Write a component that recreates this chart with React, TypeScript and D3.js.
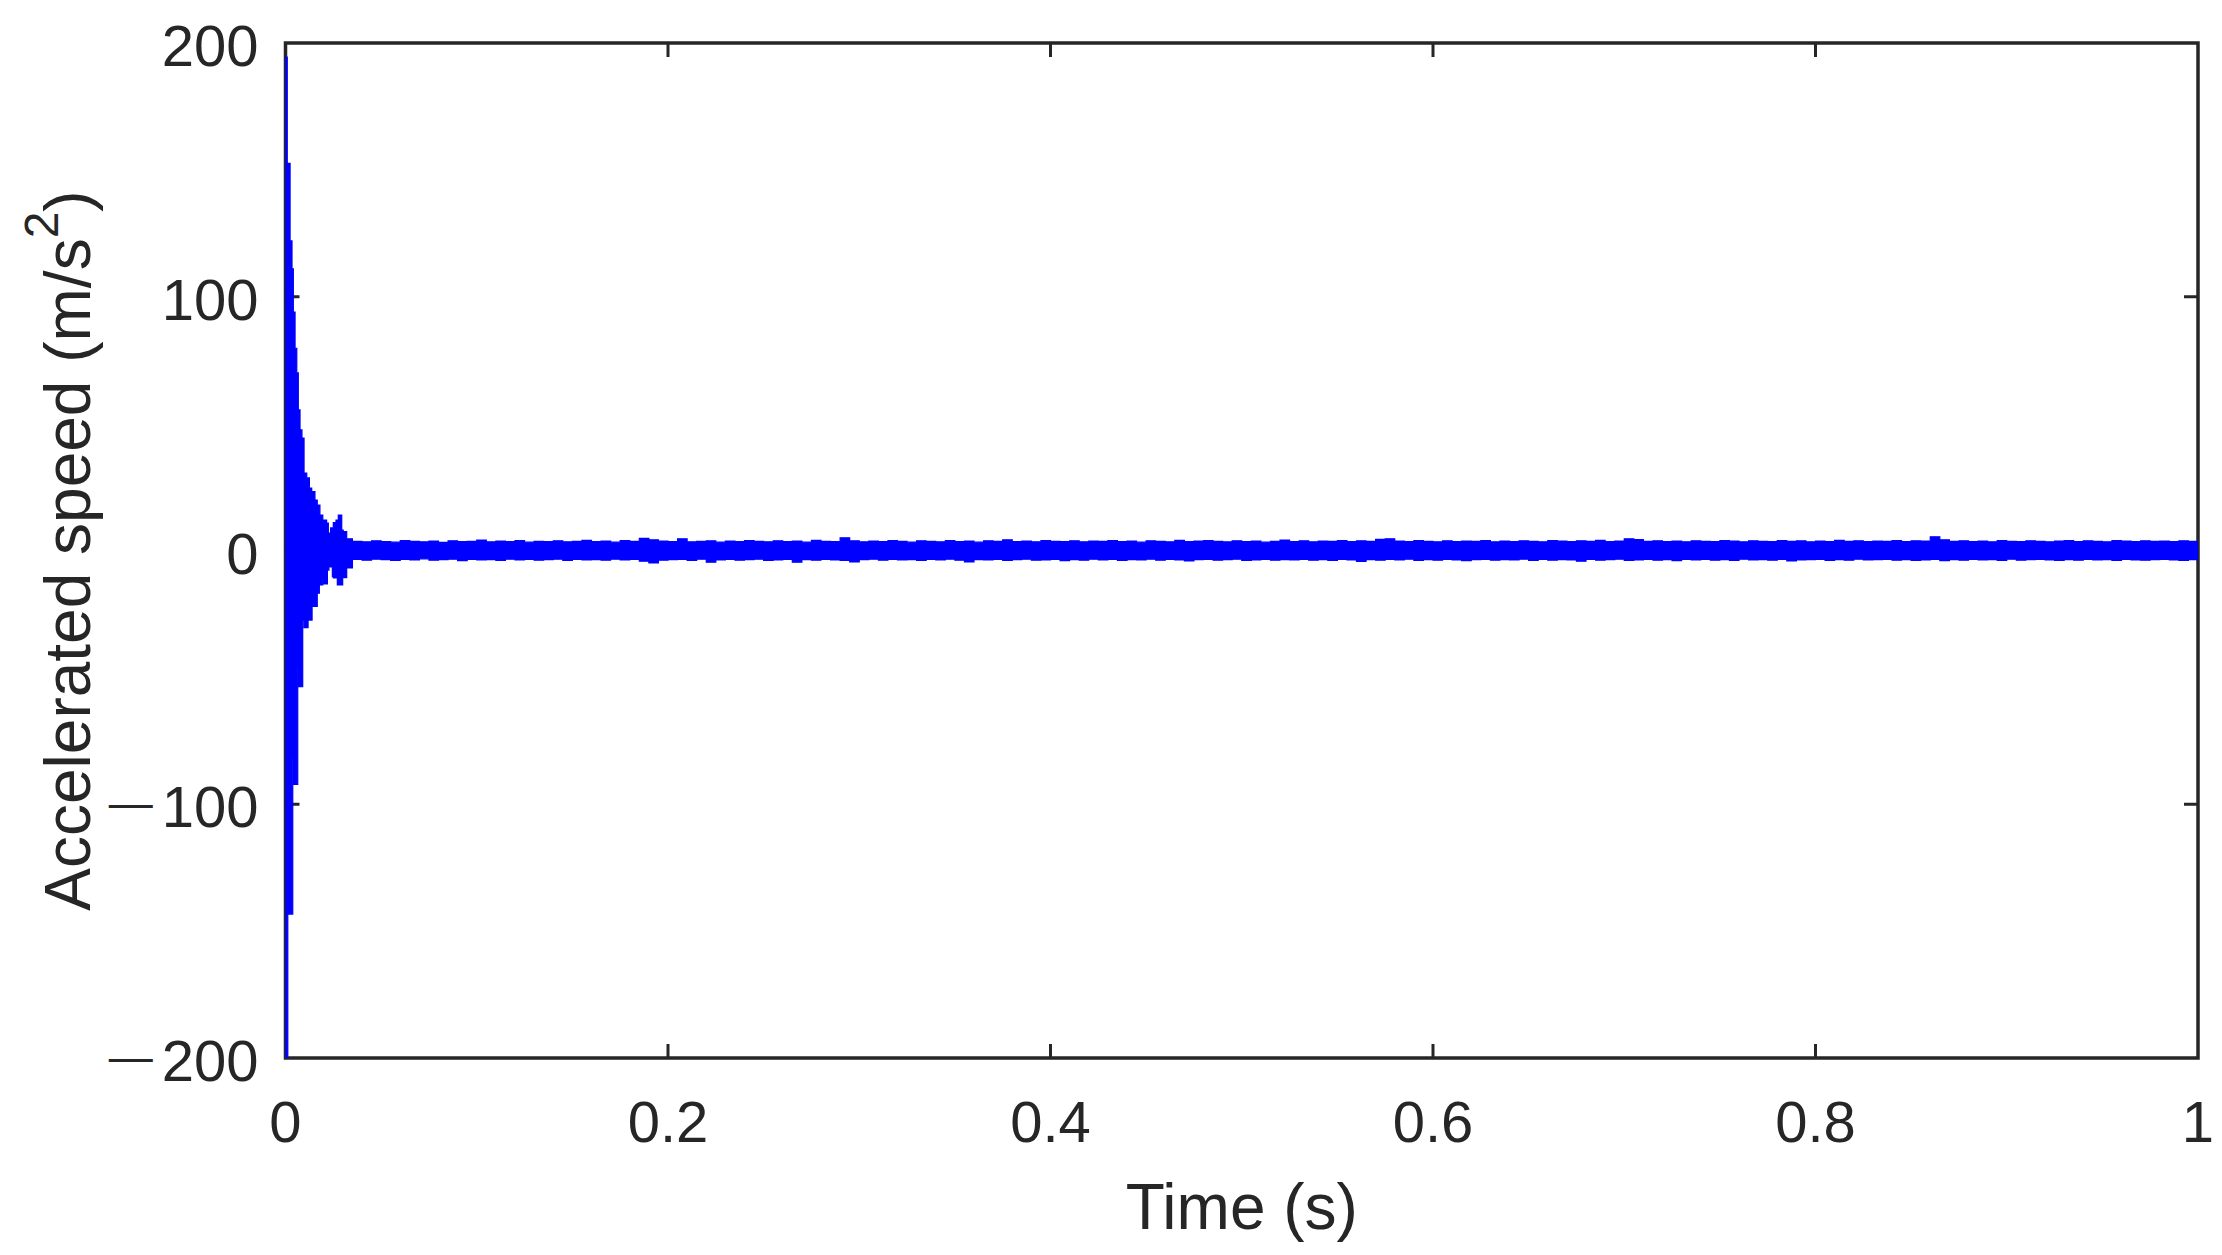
import * as d3 from 'd3';

// transient part, upper envelope (s, m/s^2)
const hiTimes = [0, 0.0009, 0.0024, 0.0034, 0.0041, 0.005, 0.0059, 0.0067, 0.0076, 0.0086, 0.0097, 0.0111, 0.0125, 0.0137, 0.0154, 0.0166, 0.018, 0.0195, 0.0215, 0.0224, 0.0236, 0.025, 0.0264, 0.0276, 0.0294, 0.0302, 0.032];
const hiValues = [194.4, 152.6, 122, 111, 94, 79.7, 70, 55.4, 47.5, 44.3, 30.5, 28.6, 24.6, 23.2, 19.9, 17.9, 14, 12, 10.8, 6.9, 8.9, 11, 12, 14, 8, 7.4, 4.6];

// transient part, lower envelope
const loTimes = [0, 0.0012, 0.0038, 0.0043, 0.0064, 0.0069, 0.009, 0.0097, 0.0118, 0.0139, 0.0145, 0.0166, 0.0177, 0.0195, 0.0201, 0.0219, 0.0227, 0.0245, 0.025, 0.0271, 0.0299, 0.032];
const loValues = [-215, -143.3, -81.9, -92.2, -45.5, -53.7, -27.4, -30.4, -27.4, -20.7, -22, -16.8, -13.6, -10.8, -13.2, -7.7, -6.5, -10.3, -10.8, -13.6, -10.7, -6.9];

// steady part, sampled every 5 ms from 0.035 s to 1 s
const steadyStart = 0.035;
const steadyStep = 0.005;
const steadyHi = [
  3.6, 3.4, 3.8, 3.5, 3.3, 3.9, 3.6, 3.4, 3.7, 3.2, 3.8, 3.5, 3.6, 4.1, 3.4, 3.7, 3.5, 3.9, 3.3, 3.6,
  3.5, 3.8, 3.4, 3.6, 4.0, 3.5, 3.7, 3.3, 3.9, 3.6, 4.8, 4.2, 3.7, 3.5, 4.6, 3.4, 3.6, 3.8, 3.3, 3.7,
  3.5, 3.9, 3.6, 3.4, 3.8, 3.5, 3.7, 3.3, 4.0, 3.6, 3.5, 5.0, 3.8, 3.4, 3.7, 3.5, 3.9, 3.6, 3.3, 3.8,
  3.6, 3.4, 3.9, 3.5, 3.7, 3.3, 3.8, 3.6, 4.2, 3.5, 3.7, 3.4, 3.9, 3.6, 3.5, 3.8, 3.4, 3.7, 3.6, 3.9,
  3.5, 3.7, 3.3, 3.8, 3.6, 3.4, 4.0, 3.5, 3.7, 3.9, 3.6, 3.4, 3.8, 3.5, 3.7, 3.3, 3.6, 4.1, 3.5, 3.8,
  3.4, 3.7, 3.6, 3.9, 3.5, 3.8, 3.6, 4.4, 4.6, 3.7, 3.5, 3.9, 3.6, 3.4, 3.8, 3.5, 3.7, 3.6, 3.9, 3.4,
  3.7, 3.5, 3.8, 3.6, 3.4, 3.9, 3.7, 3.5, 3.8, 3.6, 4.0, 3.5, 3.7, 4.6, 4.3, 3.6, 3.8, 3.5, 3.7, 3.4,
  3.8, 3.6, 3.5, 3.9, 3.7, 3.4, 3.8, 3.6, 3.5, 3.9, 3.6, 3.8, 3.4, 3.7, 3.5, 4.0, 3.6, 3.8, 3.5, 3.7,
  3.6, 3.9, 3.5, 3.8, 3.7, 5.4, 4.2, 3.6, 3.8, 3.5, 3.7, 3.4, 3.9, 3.6, 3.5, 3.8, 3.6, 3.4, 3.7, 3.9,
  3.5, 3.8, 3.6, 3.4, 3.9, 3.7, 3.5, 3.8, 3.6, 3.7, 3.5, 3.8, 3.6, 3.7,
];
const steadyLo = [
  -3.5, -3.8, -3.4, -3.6, -3.9, -3.5, -3.7, -3.3, -3.8, -3.6, -3.4, -4.0, -3.5, -3.7, -3.6, -3.9, -3.4, -3.7, -3.5, -3.8,
  -3.6, -3.4, -3.9, -3.5, -3.7, -3.6, -3.8, -3.4, -3.7, -3.5, -4.2, -4.9, -3.8, -3.6, -3.5, -3.9, -3.4, -4.6, -3.7, -3.5,
  -3.8, -3.6, -3.4, -3.9, -3.7, -3.5, -4.6, -3.6, -3.8, -3.5, -3.7, -3.9, -4.5, -3.6, -3.4, -3.8, -3.5, -3.7, -3.6, -3.9,
  -3.5, -3.7, -3.4, -3.8, -4.5, -3.6, -3.7, -3.5, -3.9, -3.6, -3.4, -3.8, -3.7, -3.5, -4.0, -3.6, -3.8, -3.4, -3.7, -3.5,
  -3.9, -3.6, -3.7, -3.4, -3.8, -3.5, -3.7, -4.1, -3.6, -3.5, -3.8, -3.6, -3.4, -3.9, -3.7, -3.5, -3.8, -3.6, -3.7, -3.5,
  -3.8, -3.6, -3.9, -3.5, -3.7, -4.3, -3.6, -3.8, -3.5, -3.7, -3.4, -3.9, -3.6, -3.8, -3.5, -3.7, -4.0, -3.6, -3.5, -3.8,
  -3.6, -3.7, -3.4, -3.9, -3.5, -3.8, -3.6, -3.7, -4.2, -3.5, -3.8, -3.6, -3.4, -3.9, -3.7, -3.5, -3.8, -3.6, -4.0, -3.5,
  -3.7, -3.5, -3.8, -3.6, -3.9, -3.4, -3.7, -3.6, -3.8, -3.5, -4.1, -3.7, -3.6, -3.5, -3.9, -3.6, -3.8, -3.4, -3.7, -3.6,
  -3.5, -3.8, -3.6, -3.9, -3.7, -3.5, -4.0, -3.6, -3.8, -3.5, -3.7, -3.6, -3.9, -3.4, -3.8, -3.6, -3.5, -3.7, -3.9, -3.6,
  -3.8, -3.5, -3.7, -3.6, -3.9, -3.5, -3.7, -3.8, -3.6, -3.5, -3.7, -3.9, -3.6, -3.5,
];

const xTicks = [0, 0.2, 0.4, 0.6, 0.8, 1];
const yTicks = [-200, -100, 0, 100, 200];

const W = 2222;
const H = 1255;
const left = 285.5, right = 2198, top = 43, bottom = 1058;
const ink = '#262626';
const blue = '#0000ff';
const font = '"Liberation Sans", Arial, Helvetica, sans-serif';

export default function App() {
  const x = d3.scaleLinear().domain([0, 1]).range([left, right]);
  const y = d3.scaleLinear().domain([-200, 200]).range([bottom, top]);

  const steadyTimes = steadyHi.map((_, i) => steadyStart + i * steadyStep);
  const upper: [number, number][] = [
    ...hiTimes.map((t, i) => [t, hiValues[i]] as [number, number]),
    ...steadyTimes.map((t, i) => [t, steadyHi[i]] as [number, number]),
  ];
  const lower: [number, number][] = [
    ...loTimes.map((t, i) => [t, loValues[i]] as [number, number]),
    ...steadyTimes.map((t, i) => [t, steadyLo[i]] as [number, number]),
  ];

  const area = d3
    .area<[number, number]>()
    .x(d => x(d[0]))
    .y0(y(0))
    .y1(d => y(d[1]))
    .curve(d3.curveStepAfter);

  const tick = 14;

  return (
    <svg
      width={W}
      height={H}
      style={{ position: 'absolute', left: 0, top: 0, background: '#fff', display: 'block' }}
      fontFamily={font}
    >
      <defs>
        <clipPath id="plot-clip">
          <rect x={left} y={top} width={right - left} height={bottom - top} />
        </clipPath>
      </defs>

      <rect x={left} y={top} width={right - left} height={bottom - top} fill="none" stroke={ink} strokeWidth={3.5} />

      {xTicks.slice(1, -1).map(t => (
        <g key={'xt' + t} stroke={ink} strokeWidth={3}>
          <line x1={x(t)} x2={x(t)} y1={bottom} y2={bottom - tick} />
          <line x1={x(t)} x2={x(t)} y1={top} y2={top + tick} />
        </g>
      ))}
      {yTicks.slice(1, -1).map(v => (
        <g key={'yt' + v} stroke={ink} strokeWidth={3}>
          <line x1={left} x2={left + tick} y1={y(v)} y2={y(v)} />
          <line x1={right} x2={right - tick} y1={y(v)} y2={y(v)} />
        </g>
      ))}

      <g clipPath="url(#plot-clip)" fill={blue} stroke={blue} strokeWidth={1.2} strokeLinejoin="miter">
        <path d={area(upper) ?? ''} />
        <path d={area(lower) ?? ''} />
      </g>

      {xTicks.map(t => (
        <text key={'xl' + t} x={x(t)} y={bottom + 84} textAnchor="middle" fontSize={58} fill={ink}>
          {String(t)}
        </text>
      ))}
      {yTicks.map(v => (
        <text key={'yl' + v} x={left - 27} y={y(v) + 23} textAnchor="end" fontSize={58} fill={ink}>
          {v < 0 ? (
            <>
              <tspan fontSize={44} dy={-9}>{'\u2014'}</tspan>
              <tspan dx={9} dy={9}>{String(Math.abs(v))}</tspan>
            </>
          ) : (
            String(v)
          )}
        </text>
      ))}

      <text x={(left + right) / 2} y={1229} textAnchor="middle" fontSize={64} fill={ink}>
        Time (s)
      </text>
      <text transform={`translate(90, ${(top + bottom) / 2}) rotate(-90)`} textAnchor="middle" fontSize={64} fill={ink}>
        Accelerated speed (m/s
        <tspan fontSize={48} dy={-32}>2</tspan>
        <tspan dy={32}>)</tspan>
      </text>
    </svg>
  );
}
